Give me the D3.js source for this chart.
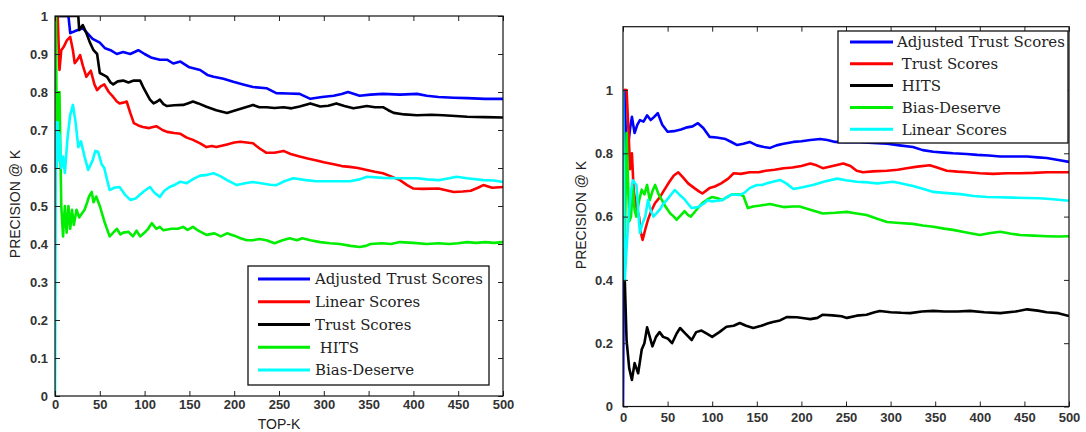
<!DOCTYPE html>
<html>
<head>
<meta charset="utf-8">
<script src="https://cdn.jsdelivr.net/npm/d3@7"></script>
<style>
body { margin: 0; background: #fff; }
.tick text { font-family: "Liberation Sans", Arial, sans-serif; font-weight: bold; font-size: 13px; fill: #333; }
.tick line { stroke: #222; }
.axisLabel { font-family: "Liberation Sans", Arial, sans-serif; font-size: 14px; fill: #222; }
.legText { font-family: "DejaVu Serif", serif; font-size: 14px; fill: #222; white-space: pre; }
</style>
</head>
<body>
<svg id="chart" width="1086" height="432"></svg>
<script>
// ---- data: [top-k, precision] ----
var xTicks = [0, 50, 100, 150, 200, 250, 300, 350, 400, 450, 500];
var leftYTicks = [0, 0.1, 0.2, 0.3, 0.4, 0.5, 0.6, 0.7, 0.8, 0.9, 1];
var rightYTicks = [0, 0.2, 0.4, 0.6, 0.8, 1];

var leftNames = ["Adjusted Trust Scores", "Linear Scores", "Trust Scores", " HITS", "Bias-Deserve"];
var rightNames = ["Adjusted Trust Scores", " Trust Scores", " HITS", " Bias-Deserve", " Linear Scores"];

var leftAdjusted = [[1,1],[15,1],[17,0.955],[24,0.962],[31,0.968],[36,0.955],[42,0.94],[50,0.93],[56,0.915],[62,0.91],[69,0.90],[76,0.905],[84,0.90],[93,0.91],[100,0.9],[108,0.89],[117,0.885],[125,0.885],[132,0.875],[140,0.88],[150,0.865],[162,0.858],[170,0.845],[177,0.84],[188,0.835],[199,0.827],[210,0.82],[221,0.813],[236,0.81],[247,0.797],[260,0.796],[273,0.795],[285,0.782],[298,0.787],[311,0.79],[320,0.795],[327,0.80],[340,0.79],[352,0.793],[366,0.795],[385,0.793],[404,0.795],[415,0.79],[428,0.787],[445,0.785],[460,0.784],[480,0.782],[500,0.782]];
var leftLinear = [[1,1],[3,1],[5,0.858],[7,0.91],[10,0.92],[13,0.935],[17,0.945],[20,0.91],[22,0.876],[25,0.885],[28,0.897],[31,0.87],[35,0.84],[38,0.85],[40,0.856],[44,0.82],[47,0.805],[51,0.815],[55,0.82],[60,0.8],[65,0.787],[69,0.775],[72,0.77],[76,0.772],[80,0.775],[84,0.745],[88,0.718],[93,0.712],[98,0.708],[105,0.705],[113,0.71],[120,0.7],[125,0.695],[133,0.692],[140,0.69],[147,0.68],[154,0.674],[162,0.665],[169,0.655],[175,0.658],[180,0.655],[192,0.662],[200,0.667],[207,0.669],[214,0.667],[221,0.665],[228,0.652],[236,0.64],[245,0.64],[255,0.645],[263,0.637],[273,0.63],[282,0.625],[292,0.62],[300,0.615],[311,0.61],[320,0.605],[329,0.603],[338,0.6],[348,0.595],[357,0.59],[366,0.586],[375,0.578],[385,0.568],[393,0.555],[400,0.546],[410,0.545],[428,0.546],[445,0.537],[455,0.538],[464,0.54],[472,0.548],[478,0.555],[488,0.548],[500,0.55]];
var leftTrust = [[1,1],[26,1],[27,0.963],[31,0.976],[35,0.955],[39,0.93],[43,0.91],[47,0.90],[50,0.85],[54,0.845],[58,0.84],[62,0.825],[65,0.82],[70,0.828],[76,0.83],[82,0.825],[88,0.83],[95,0.83],[99,0.81],[102,0.797],[106,0.78],[110,0.77],[114,0.775],[117,0.78],[121,0.768],[125,0.763],[133,0.765],[143,0.766],[148,0.77],[154,0.775],[160,0.77],[169,0.761],[180,0.752],[192,0.745],[199,0.75],[210,0.758],[221,0.766],[228,0.76],[236,0.76],[245,0.758],[255,0.76],[264,0.757],[273,0.762],[285,0.77],[296,0.762],[305,0.764],[314,0.77],[323,0.763],[333,0.757],[340,0.76],[348,0.763],[357,0.76],[366,0.76],[372,0.752],[378,0.745],[390,0.741],[404,0.739],[420,0.74],[433,0.739],[447,0.737],[460,0.735],[480,0.734],[500,0.733]];
var leftHits = [[1,1],[2,0.67],[3,0.8],[4,0.67],[5,0.8],[7,0.5],[9,0.42],[11,0.5],[13,0.43],[15,0.5],[17,0.44],[19,0.49],[21,0.45],[24,0.49],[27,0.47],[30,0.48],[33,0.49],[36,0.51],[38,0.525],[41,0.537],[43,0.51],[46,0.525],[50,0.5],[55,0.46],[61,0.42],[65,0.43],[69,0.44],[73,0.425],[76,0.43],[82,0.432],[87,0.42],[91,0.435],[95,0.42],[100,0.43],[104,0.44],[108,0.455],[113,0.44],[117,0.445],[121,0.436],[130,0.44],[137,0.44],[143,0.445],[148,0.437],[154,0.445],[160,0.435],[169,0.424],[178,0.428],[185,0.42],[192,0.428],[200,0.422],[207,0.415],[214,0.41],[221,0.41],[228,0.413],[236,0.41],[245,0.402],[254,0.41],[262,0.415],[270,0.41],[276,0.415],[285,0.41],[296,0.405],[307,0.402],[318,0.4],[330,0.395],[340,0.392],[347,0.395],[352,0.40],[365,0.402],[375,0.4],[385,0.405],[400,0.403],[415,0.4],[428,0.402],[440,0.4],[450,0.402],[460,0.405],[470,0.403],[480,0.405],[490,0.403],[500,0.405]];
var leftBias = [[0,0],[1,0.72],[2,0.6],[3,0.72],[4,0.62],[5,0.69],[7,0.6],[9,0.63],[11,0.587],[14,0.68],[17,0.74],[20,0.766],[23,0.72],[26,0.655],[29,0.67],[33,0.63],[37,0.595],[42,0.62],[45,0.645],[48,0.643],[52,0.61],[55,0.6],[58,0.57],[61,0.542],[66,0.548],[72,0.55],[78,0.53],[84,0.516],[90,0.52],[95,0.53],[100,0.54],[106,0.55],[111,0.535],[117,0.524],[122,0.54],[128,0.55],[134,0.556],[140,0.564],[147,0.56],[155,0.572],[162,0.58],[170,0.582],[177,0.586],[185,0.578],[192,0.568],[203,0.555],[212,0.56],[221,0.563],[230,0.56],[240,0.556],[247,0.555],[256,0.565],[266,0.573],[280,0.568],[292,0.565],[311,0.565],[329,0.565],[340,0.57],[348,0.577],[366,0.574],[385,0.573],[404,0.573],[415,0.57],[428,0.568],[440,0.573],[448,0.577],[460,0.573],[478,0.568],[490,0.567],[500,0.563]];

var rightAdjusted = [[0,0],[2,1],[4,0.75],[6,0.83],[8,0.88],[10,0.915],[13,0.864],[16,0.89],[19,0.905],[23,0.9],[27,0.92],[31,0.905],[35,0.915],[39,0.927],[44,0.89],[50,0.868],[57,0.87],[65,0.875],[72,0.882],[78,0.885],[84,0.895],[90,0.88],[97,0.852],[105,0.85],[115,0.845],[122,0.835],[128,0.826],[135,0.83],[142,0.836],[150,0.825],[158,0.82],[165,0.817],[172,0.825],[180,0.83],[191,0.836],[200,0.838],[210,0.842],[221,0.845],[229,0.842],[238,0.836],[250,0.835],[265,0.835],[280,0.833],[296,0.83],[310,0.825],[325,0.82],[336,0.81],[348,0.805],[360,0.802],[370,0.80],[385,0.798],[397,0.795],[410,0.793],[423,0.79],[440,0.79],[453,0.79],[465,0.787],[475,0.785],[488,0.779],[500,0.773]];
var rightTrust = [[1,1],[4,1],[6,0.88],[8,0.75],[10,0.8],[12,0.68],[15,0.63],[18,0.6],[20,0.55],[22,0.526],[25,0.56],[28,0.59],[32,0.62],[36,0.643],[41,0.66],[46,0.683],[52,0.71],[57,0.73],[62,0.74],[67,0.725],[73,0.705],[80,0.69],[86,0.678],[89,0.673],[97,0.69],[103,0.695],[110,0.705],[118,0.72],[124,0.737],[132,0.735],[142,0.74],[152,0.74],[160,0.745],[170,0.748],[180,0.753],[190,0.755],[200,0.76],[210,0.768],[217,0.762],[224,0.753],[235,0.76],[247,0.768],[255,0.76],[262,0.745],[269,0.74],[280,0.743],[296,0.745],[308,0.748],[318,0.753],[330,0.758],[344,0.762],[352,0.755],[363,0.745],[375,0.742],[386,0.74],[400,0.737],[415,0.735],[430,0.737],[445,0.737],[460,0.738],[475,0.74],[490,0.74],[500,0.74]];
var rightHits = [[1,0.5],[2,0.4],[4,0.21],[7,0.12],[10,0.084],[13,0.137],[17,0.105],[21,0.18],[24,0.2],[27,0.25],[30,0.22],[33,0.19],[37,0.22],[41,0.235],[45,0.22],[50,0.215],[55,0.20],[60,0.23],[64,0.248],[70,0.23],[77,0.21],[82,0.235],[88,0.24],[94,0.23],[100,0.22],[108,0.235],[116,0.252],[124,0.255],[131,0.264],[138,0.255],[146,0.248],[155,0.255],[162,0.262],[168,0.267],[176,0.272],[184,0.283],[195,0.282],[205,0.278],[210,0.276],[218,0.28],[224,0.29],[235,0.288],[245,0.285],[251,0.28],[262,0.287],[273,0.29],[282,0.298],[288,0.302],[300,0.298],[312,0.296],[322,0.295],[335,0.3],[348,0.302],[360,0.3],[375,0.3],[389,0.302],[405,0.298],[423,0.295],[440,0.3],[453,0.307],[465,0.303],[475,0.298],[488,0.295],[500,0.286]];
var rightBias = [[2,0.5],[4,0.864],[7,0.585],[9,0.6],[11,0.695],[13,0.62],[15,0.6],[18,0.65],[21,0.685],[24,0.67],[27,0.7],[30,0.652],[33,0.68],[36,0.70],[40,0.67],[43,0.655],[48,0.63],[53,0.61],[57,0.6],[60,0.59],[65,0.605],[69,0.617],[73,0.605],[76,0.60],[82,0.62],[89,0.643],[95,0.655],[100,0.662],[106,0.658],[111,0.652],[117,0.662],[122,0.67],[131,0.67],[135,0.665],[140,0.627],[146,0.632],[154,0.635],[165,0.64],[172,0.635],[180,0.63],[190,0.632],[198,0.632],[210,0.622],[224,0.61],[238,0.612],[251,0.615],[262,0.61],[273,0.605],[285,0.593],[296,0.583],[310,0.58],[325,0.577],[336,0.572],[348,0.568],[360,0.562],[370,0.558],[385,0.55],[400,0.542],[412,0.548],[423,0.552],[435,0.546],[445,0.542],[460,0.54],[475,0.538],[488,0.537],[500,0.538]];
var rightLinear = [[0,1],[2,0.4],[4,0.5],[6,0.59],[9,0.68],[11,0.715],[15,0.70],[17,0.62],[19,0.548],[22,0.58],[25,0.6],[28,0.652],[31,0.62],[34,0.60],[38,0.612],[42,0.625],[45,0.64],[49,0.652],[54,0.67],[58,0.684],[63,0.67],[69,0.655],[73,0.64],[77,0.627],[84,0.63],[90,0.64],[95,0.652],[100,0.648],[105,0.65],[111,0.652],[117,0.662],[122,0.67],[130,0.668],[136,0.675],[142,0.69],[150,0.70],[156,0.70],[161,0.705],[168,0.71],[176,0.716],[183,0.705],[191,0.687],[200,0.692],[213,0.70],[225,0.71],[240,0.72],[250,0.715],[262,0.71],[275,0.708],[285,0.705],[295,0.708],[303,0.71],[315,0.703],[325,0.697],[336,0.688],[348,0.678],[360,0.675],[378,0.671],[393,0.665],[408,0.662],[422,0.661],[437,0.66],[452,0.659],[467,0.658],[482,0.655],[500,0.65]];

var lineColors = ["#0000ff", "#ff0000", "#000000", "#00ee00", "#00ffff"];

var svg = d3.select("#chart");

var panels = [
  { id: "pl", left: 55, right: 503, top: 16, bottom: 396, yMax: 1, yTicks: leftYTicks,
    xPad: 4, yPad: 7, label: [15, 204], xTitle: "TOP-K",
    series: [leftAdjusted, leftLinear, leftTrust, leftHits, leftBias], names: leftNames,
    leg: { x0: 248, x1: 489, y0: 266, y1: 385, lx0: 258, lx1: 310, tx: 315, row0: 279, step: 22.75 } },
  { id: "pr", left: 623, right: 1069, top: 26.7, bottom: 406.5, yMax: 1.2, yTicks: rightYTicks,
    xPad: 6, yPad: 10, label: [581, 215], xTitle: null,
    series: [rightAdjusted, rightTrust, rightHits, rightBias, rightLinear], names: rightNames,
    leg: { x0: 838, x1: 1068, y0: 31, y1: 143, lx0: 850, lx1: 893, tx: 897, row0: 42, step: 21.8 } }
];

var legendSize = null;

function drawPanel(p) {
  var x = d3.scaleLinear().domain([0, 500]).range([p.left, p.right]);
  var y = d3.scaleLinear().domain([0, p.yMax]).range([p.bottom, p.top]);
  var g = svg.append("g");

  // lines are clipped to the axes box like matlab does
  svg.append("clipPath").attr("id", "clip-" + p.id)
    .append("rect")
    .attr("x", p.left).attr("y", p.top)
    .attr("width", p.right - p.left).attr("height", p.bottom - p.top);

  var line = d3.line().x(function(d) { return x(d[0]); }).y(function(d) { return y(d[1]); });

  var lines = g.append("g").attr("clip-path", "url(#clip-" + p.id + ")");
  p.series.forEach(function(s, i) {
    lines.append("path").datum(s)
      .attr("d", line)
      .attr("fill", "none")
      .attr("stroke", lineColors[i])
      .attr("stroke-width", 2.6)
      .attr("stroke-linejoin", "round");
  });

  // ticks pointing inward on all four sides
  g.append("g").attr("transform", "translate(0," + p.bottom + ")")
    .call(d3.axisBottom(x).tickValues(xTicks).tickSize(-5).tickPadding(p.xPad).tickFormat(d3.format("d")))
    .call(function(a) { a.select(".domain").remove(); });
  g.append("g").attr("transform", "translate(0," + p.top + ")")
    .call(d3.axisTop(x).tickValues(xTicks).tickSize(-5).tickFormat(""))
    .call(function(a) { a.select(".domain").remove(); });
  g.append("g").attr("transform", "translate(" + p.left + ",0)")
    .call(d3.axisLeft(y).tickValues(p.yTicks).tickSize(-5).tickPadding(p.yPad).tickFormat(d3.format("~g")))
    .call(function(a) { a.select(".domain").remove(); });
  g.append("g").attr("transform", "translate(" + p.right + ",0)")
    .call(d3.axisRight(y).tickValues(p.yTicks).tickSize(-5).tickFormat(""))
    .call(function(a) { a.select(".domain").remove(); });

  g.append("rect")
    .attr("x", p.left).attr("y", p.top)
    .attr("width", p.right - p.left).attr("height", p.bottom - p.top)
    .attr("fill", "none").attr("stroke", "#111").attr("stroke-width", 1.2);

  g.append("text").attr("class", "axisLabel")
    .attr("transform", "translate(" + p.label[0] + "," + p.label[1] + ") rotate(-90)")
    .attr("text-anchor", "middle").attr("dy", "0.35em")
    .text("PRECISION @ K");

  if (p.xTitle) {
    g.append("text").attr("class", "axisLabel")
      .attr("x", (p.left + p.right) / 2).attr("y", 429)
      .attr("text-anchor", "middle")
      .text(p.xTitle);
  }

  // legend
  var L = p.leg;
  var lg = g.append("g");
  lg.append("rect")
    .attr("x", L.x0).attr("y", L.y0).attr("width", L.x1 - L.x0).attr("height", L.y1 - L.y0)
    .attr("fill", "#fff").attr("stroke", "#111").attr("stroke-width", 1.3);
  p.names.forEach(function(name, i) {
    var cy = L.row0 + i * L.step;
    lg.append("line")
      .attr("x1", L.lx0).attr("x2", L.lx1).attr("y1", cy).attr("y2", cy)
      .attr("stroke", lineColors[i]).attr("stroke-width", 3);
    var t = lg.append("text").attr("class", "legText")
      .attr("x", L.tx).attr("y", cy).attr("dy", "0.36em")
      .text(name);
    if (legendSize === null && name === "Adjusted Trust Scores") {
      legendSize = 14 * 168 / t.node().getComputedTextLength();
    }
  });
  lg.selectAll(".legText").style("font-size", legendSize + "px");
}

panels.forEach(drawPanel);
</script>
</body>
</html>
